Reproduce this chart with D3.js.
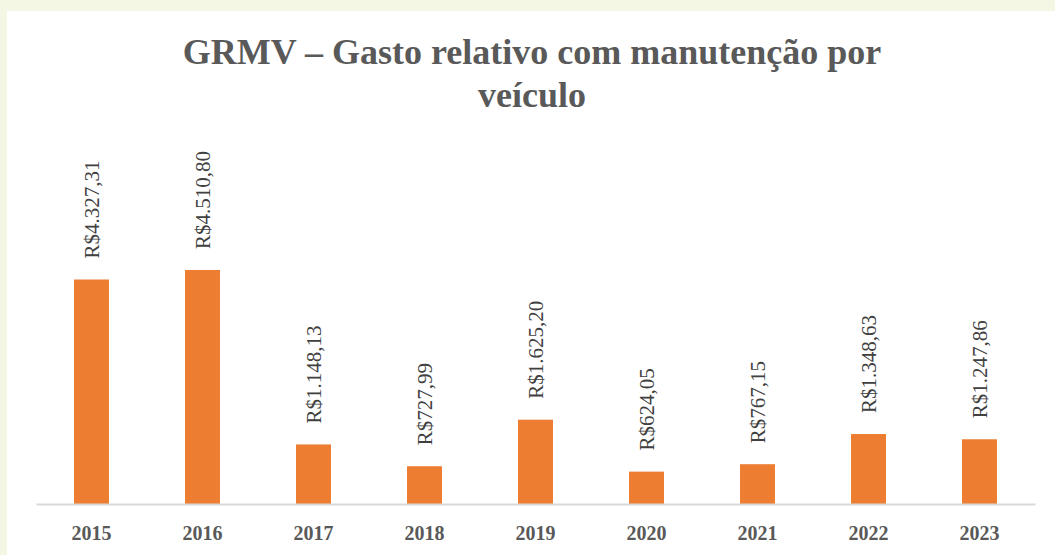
<!DOCTYPE html>
<html>
<head>
<meta charset="utf-8">
<script src="https://cdn.jsdelivr.net/npm/d3@7"></script>
<style>
  body { margin: 0; background: #f3f7e4; }
  svg { display: block; }
  svg text { font-family: 'Liberation Serif', 'Times New Roman', serif; }
</style>
</head>
<body>
<div id="chart"></div>
<script>
const years = ['2015', '2016', '2017', '2018', '2019', '2020', '2021', '2022', '2023']
const values = [4327.31, 4510.80, 1148.13, 727.99, 1625.20, 624.05, 767.15, 1348.63, 1247.86]
const titleLines = ['GRMV – Gasto relativo com manutenção por', 'veículo']

const W = 1055, H = 555
const margin = { left: 36, right: 20, bottom: 51 }
const baseY = H - margin.bottom

const svg = d3.select('#chart').append('svg')
  .attr('width', W)
  .attr('height', H)

svg.append('rect')
  .attr('x', 7).attr('y', 11)
  .attr('width', W - 7).attr('height', H - 11)
  .attr('fill', '#ffffff')

let x = d3.scaleBand()
  .domain(years)
  .range([margin.left, W - margin.right])
  .paddingInner(0.685)
  .paddingOuter(0.3425)

let y = d3.scaleLinear()
  .domain([0, 5000])
  .range([baseY, baseY - 259.4])

// title
svg.append('text')
  .attr('text-anchor', 'middle')
  .attr('font-weight', 'bold')
  .attr('font-size', 36)
  .attr('fill', '#595959')
  .selectAll('tspan')
  .data(titleLines)
  .enter().append('tspan')
  .attr('x', 532)
  .attr('y', (d, i) => 64 + i * 43)
  .text(d => d)

svg.selectAll('.bar')
  .data(values)
  .enter().append('rect')
  .attr('class', 'bar')
  .attr('x', (d, i) => x(years[i]))
  .attr('y', d => y(d))
  .attr('width', x.bandwidth())
  .attr('height', d => baseY - y(d))
  .attr('fill', '#ed7d31')

let fmt = d3.formatLocale({ decimal: ',', thousands: '.', grouping: [3], currency: ['R$', ''] }).format('$,.2f')

svg.selectAll('.lbl')
  .data(values)
  .enter().append('text')
  .attr('class', 'lbl')
  .attr('transform', (d, i) => `translate(${x(years[i]) + x.bandwidth() / 2 + 7}, ${y(d) - 21}) rotate(-90)`)
  .attr('font-size', 21)
  .attr('fill', '#404040')
  .text(d => fmt(d))

let xAxis = svg.append('g')
  .attr('transform', `translate(0, ${baseY})`)
  .call(d3.axisBottom(x).tickSize(0).tickPadding(22))

xAxis.attr('font-family', null)

xAxis.select('.domain')
  .attr('stroke', '#d9d9d9')
  .attr('stroke-width', 2)

xAxis.selectAll('text')
  .attr('font-weight', 'bold')
  .attr('font-size', 20)
  .attr('fill', '#595959')
</script>
</body>
</html>
